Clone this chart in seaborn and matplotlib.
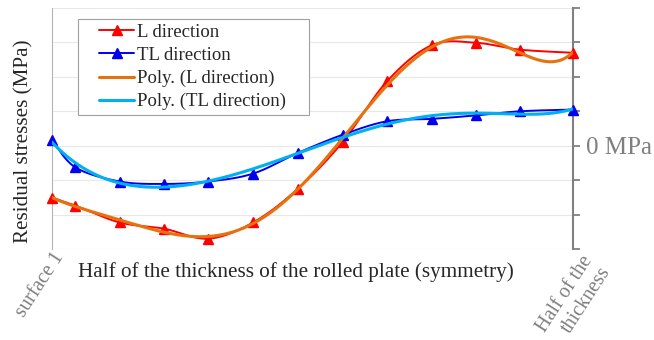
import numpy as np
import matplotlib
matplotlib.use("Agg")
import matplotlib.pyplot as plt
import seaborn as sns
from matplotlib.lines import Line2D
from matplotlib.legend_handler import HandlerLine2D
from matplotlib.transforms import ScaledTranslation

# positions through the half thickness (% of half thickness) and stresses (MPa)
depth = [0, 4.5, 13, 21.5, 30, 38.6, 47.2, 55.8, 64.3, 72.9, 81.4, 89.8, 100]
l_dir = [-151, -174, -223, -241, -270, -223, -125, 11, 187, 292, 299, 279, 270]
tl_dir = [17, -63, -104, -111, -104, -81, -21, 32, 71, 78, 88, 100, 105]

y_ticks = [-300, -200, -100, 0, 100, 200, 300, 400]
x_ticks = [0, 100]
x_tick_labels = ["surface 1", "Half of the\nthickness"]

sns.set_style("white")
plt.rcParams['font.family'] = ['Liberation Serif', 'DejaVu Serif']


def smooth(x, y, n=25):
    # excel-like smoothed line: cubic bezier through the points
    x = np.asarray(x, float)
    y = np.asarray(y, float)
    px = np.r_[x[0], x, x[-1]]
    py = np.r_[y[0], y, y[-1]]
    t = np.linspace(0, 1, n)
    xs, ys = [], []
    for j in range(len(x) - 1):
        c1x = px[j + 1] + (px[j + 2] - px[j]) / 6
        c1y = py[j + 1] + (py[j + 2] - py[j]) / 6
        c2x = px[j + 2] - (px[j + 3] - px[j + 1]) / 6
        c2y = py[j + 2] - (py[j + 3] - py[j + 1]) / 6
        b0, b1, b2, b3 = (1 - t) ** 3, 3 * (1 - t) ** 2 * t, 3 * (1 - t) * t ** 2, t ** 3
        sx = b0 * px[j + 1] + b1 * c1x + b2 * c2x + b3 * px[j + 2]
        sy = b0 * py[j + 1] + b1 * c1y + b2 * c2y + b3 * py[j + 2]
        if j > 0:
            sx, sy = sx[1:], sy[1:]
        xs.append(sx)
        ys.append(sy)
    return np.concatenate(xs), np.concatenate(ys)


def poly_trend(x, y, order=6):
    coef = np.polyfit(np.asarray(x) / 100, y, order)
    xf = np.linspace(min(x), max(x), 300)
    return xf, np.polyval(coef, xf / 100)


fig = plt.figure(figsize=(6.54, 3.40), dpi=100)
ax = fig.add_axes([52 / 654, 91 / 340, 521 / 654, 241 / 340])

red, blue = '#ff0000', '#0000ee'
orange, cyan = '#e6720f', '#00b0f0'

for vals, col in [(l_dir, red), (tl_dir, blue)]:
    sx, sy = smooth(depth, vals)
    sns.lineplot(x=sx, y=sy, color=col, lw=1.4, sort=False, estimator=None, ax=ax, zorder=3)
    ax.plot(depth, vals, ls='none', marker='^', ms=7.5, color=col, mec=col, clip_on=False, zorder=4)

for vals, col in [(l_dir, orange), (tl_dir, cyan)]:
    fx, fy = poly_trend(depth, vals)
    sns.lineplot(x=fx, y=fy, color=col, lw=2.2, sort=False, estimator=None, ax=ax, zorder=5)

ax.set_xlim(0, 100)
ax.set_ylim(-300, 400)

ax.yaxis.tick_right()
ax.set_yticks(y_ticks)
ax.set_yticklabels(['0 MPa' if v == 0 else '' for v in y_ticks])
ax.tick_params(axis='y', right=True, left=False, length=5, width=1.3,
               color='#808080', labelcolor='#7f7f7f', labelsize=18, pad=4)
ax.yaxis.get_major_ticks()[y_ticks.index(0)].tick2line.set_color('black')
ax.grid(axis='y', color='#e8e8e8', lw=0.8)
ax.grid(axis='x', visible=False)

ax.tick_params(axis='x', length=0, pad=0)
ax.set_xticks(x_ticks)
ax.set_xticklabels(x_tick_labels, rotation=57, ha='right', va='top', rotation_mode='anchor',
                   color='#7f7f7f', fontsize=14.5, multialignment='right')
xl = ax.get_xticklabels()
xl[1].set_transform(xl[1].get_transform() + ScaledTranslation(0.08, -0.03, fig.dpi_scale_trans))

for s in ['top', 'bottom']:
    ax.spines[s].set_visible(False)
ax.spines['left'].set_color('#b4b4b4')
ax.spines['left'].set_linewidth(0.8)
ax.spines['right'].set_color('#808080')
ax.spines['right'].set_linewidth(1.5)

ax.yaxis.set_label_position('left')
ax.set_ylabel("Residual stresses (MPa)", fontsize=15.2)
ax.yaxis.set_label_coords(-0.054, 0.446)
ax.yaxis.label.set_va('center')
ax.set_xlabel("Half of the thickness of the rolled plate (symmetry)", fontsize=15.2)
ax.xaxis.set_label_coords(0.468, -0.095)
ax.xaxis.label.set_va('center')

handles = [
    Line2D([], [], color=red, lw=1.4, marker='^', ms=7.5),
    Line2D([], [], color=blue, lw=1.4, marker='^', ms=7.5),
    Line2D([], [], color=orange, lw=2.2),
    Line2D([], [], color=cyan, lw=2.2),
]
labels = ["L direction", "TL direction", "Poly. (L direction)", "Poly. (TL direction)"]
leg = ax.legend(handles, labels, loc='upper left', bbox_to_anchor=(0.0499, 0.5, 0.4434, 0.454),
                mode='expand', borderaxespad=0, fontsize=13.5, frameon=True, fancybox=False,
                edgecolor='#a0a0a0', framealpha=1, borderpad=0.24,
                handlelength=2.77, handletextpad=0.15, labelspacing=0.32,
                handler_map={Line2D: HandlerLine2D(xpad=0.9)})
leg.get_frame().set_linewidth(0.8)

plt.savefig("out.png", dpi=100)
